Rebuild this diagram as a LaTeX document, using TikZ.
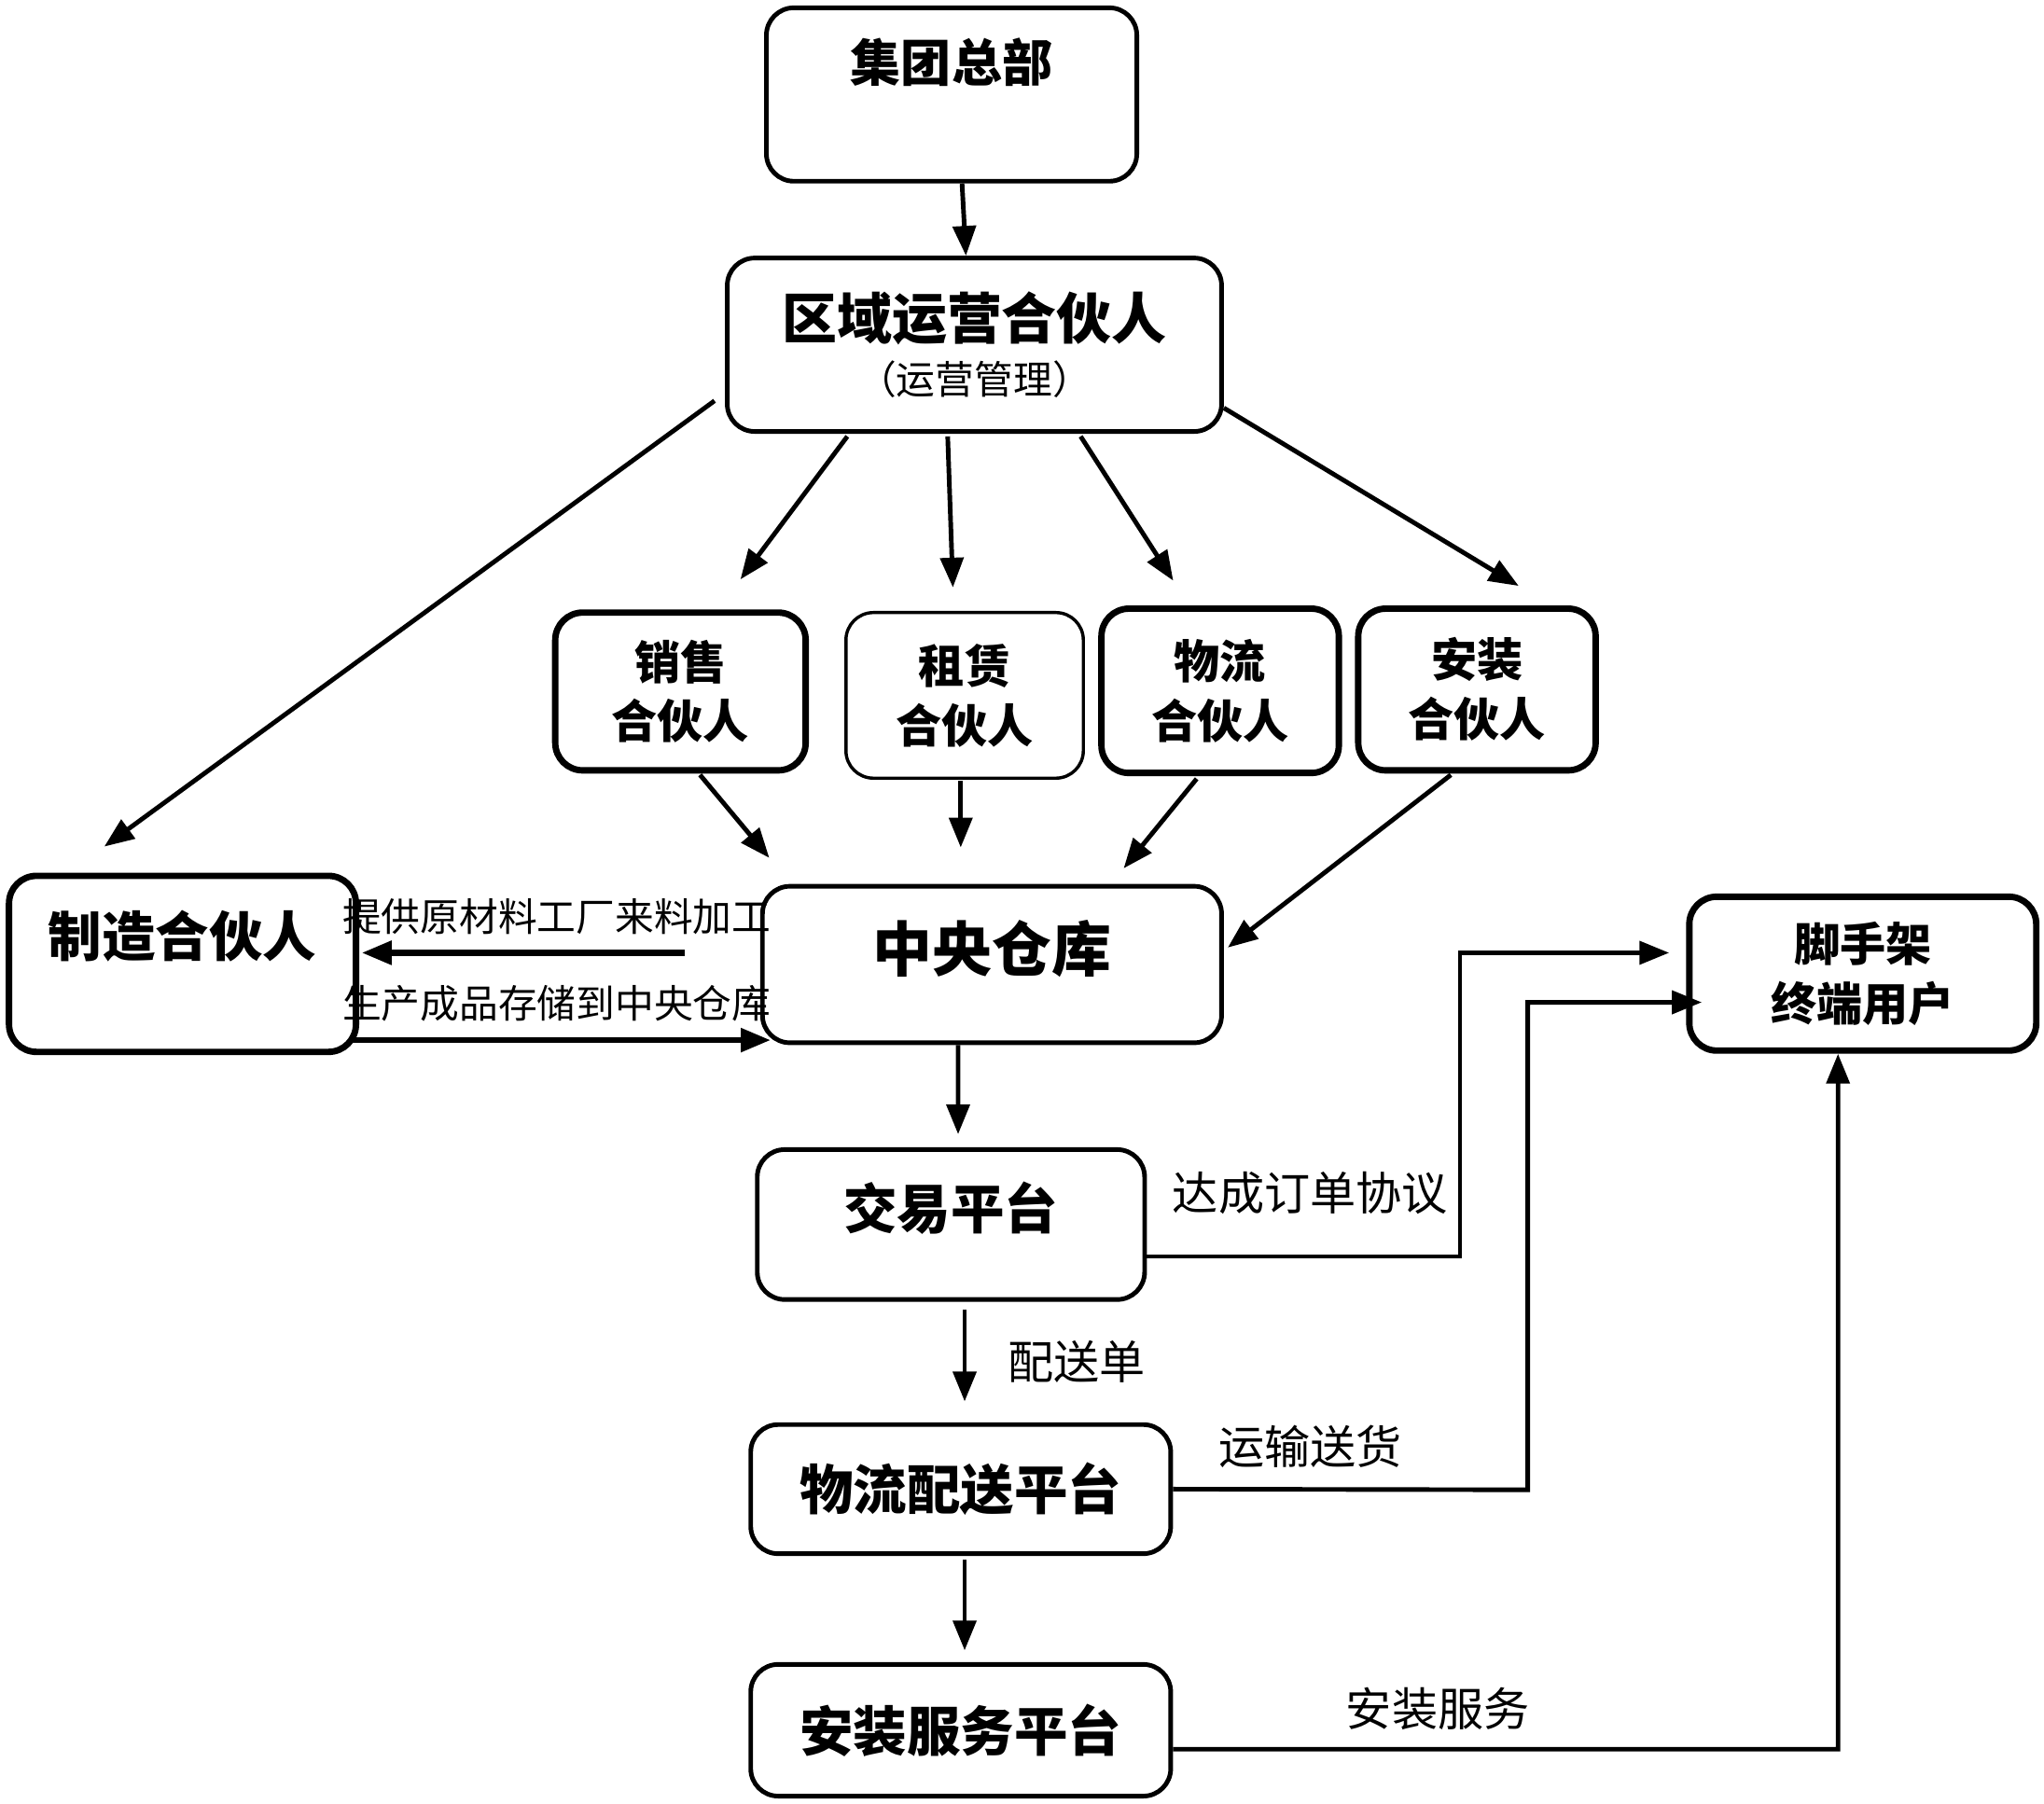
\documentclass[tikz,border=0pt]{standalone}
\usepackage{fontspec}
\setmainfont{Noto Sans CJK SC}
\usetikzlibrary{arrows.meta}
\begin{document}
\begin{tikzpicture}[x=0.01cm,y=-0.01cm,
  box/.style={draw, rounded corners=6pt, line width=1pt, inner sep=0pt},
  thickbox/.style={box, line width=1.4pt},
  thinbox/.style={box, line width=0.7pt},
  arr/.style={-{Triangle[length=6.5pt,width=5pt]}, line width=1pt},
  big/.style={font=\bfseries\fontsize{11.7}{14}\selectfont},
  mid/.style={font=\bfseries\fontsize{10}{13}\selectfont, align=center},
  lbl/.style={font=\fontsize{10}{12}\selectfont},
  slbl/.style={font=\fontsize{8.5}{10}\selectfont, inner sep=0pt}
]
\useasboundingbox (0,0) rectangle (1568,1384);

% boxes
\node[box, minimum width=2.84cm, minimum height=1.33cm,
  label={[big, font=\bfseries\fontsize{11}{13}\selectfont, yshift=0.245cm]center:集团总部}] (hq) at (730,72.5) {};
\node[box, minimum width=3.79cm, minimum height=1.33cm, align=center] (reg) at (747.5,264.5)
  {{\bfseries\fontsize{12}{15}\selectfont 区域运营合伙人}\\[0pt]{\fontsize{8.5}{10}\selectfont （运营管理）}};
\node[thickbox, mid, minimum width=1.92cm, minimum height=1.21cm] (sales) at (522,530.5) {销售\\合伙人};
\node[thinbox, mid, minimum width=1.82cm, minimum height=1.27cm] (rent) at (740,533.5) {租赁\\合伙人};
\node[thickbox, mid, minimum width=1.82cm, minimum height=1.26cm] (logi) at (936,530) {物流\\合伙人};
\node[thickbox, mid, minimum width=1.82cm, minimum height=1.24cm] (inst) at (1133,529) {安装\\合伙人};
\node[thickbox, minimum width=2.66cm, minimum height=1.35cm,
  label={[big, yshift=0.215cm]center:制造合伙人}] (mfg) at (140,739.5) {};
\node[box, minimum width=3.52cm, minimum height=1.2cm,
  label={[font=\bfseries\fontsize{13}{15}\selectfont, yshift=0.12cm]center:中央仓库}] (cw) at (761,740) {};
\node[box, minimum width=2.97cm, minimum height=1.15cm,
  label={[big, yshift=0.125cm]center:交易平台}] (trade) at (729.5,939.5) {};
\node[box, big, minimum width=3.22cm, minimum height=0.99cm] (logp) at (737,1142.5) {物流配送平台};
\node[box, big, minimum width=3.22cm, minimum height=1.01cm] (instp) at (737,1327.5) {安装服务平台};
\node[thickbox, mid, minimum width=2.66cm, minimum height=1.18cm] (user) at (1429,747) {脚手架\\终端用户};

% connectors
\draw[arr] ([xshift=0.08cm]hq.south) -- ([xshift=-0.065cm]reg.north);
\draw[arr] ([shift={(-8,43)}]reg.west) -- ([shift={(-60,-20)}]mfg.north);
\draw[arr] ([shift={(-97.5,2)}]reg.south) -- ([shift={(46,-23)}]sales.north);
\draw[arr] ([shift={(-20.5,2)}]reg.south) -- ([shift={(-9,-18)}]rent.north);
\draw[arr] ([shift={(81.5,2)}]reg.south) -- ([shift={(-36,-19)}]logi.north);
\draw[arr] ([shift={(0,48.5)}]reg.east) -- ([shift={(32,-15)}]inst.north);

\draw[arr] ([shift={(15,1)}]sales.south) -- ([shift={(7,-20)}]cw.north west);
\draw[arr] ([shift={(-3,1)}]rent.south) -- ([shift={(-24,-28)}]cw.north);
\draw[arr] ([shift={(-18,2)}]logi.south) -- ([shift={(101,-12)}]cw.north);
\draw[arr] ([shift={(-20,1)}]inst.south) -- ([shift={(3,-13)}]cw.east);

\draw[arr, line width=1.3pt] ([shift={(-58,-9)}]cw.west) -- ([shift={(2,-8.5)}]mfg.east);
\node[slbl, anchor=west] (lab1) at (262,703) {提供原材料工厂来料加工};
\draw[arr, line width=1.3pt] ([shift={(-5,58.5)}]mfg.east) -- ([shift={(8,58)}]cw.west);
\node[slbl, anchor=west] (lab2) at (262,770) {生产成品存储到中央仓库};

\draw[arr] ([xshift=-0.26cm]cw.south) -- ([shift={(5.5,-10)}]trade.north);

\draw[arr] ([shift={(0,24.5)}]trade.east) -- (1120,964) -- (1120,731) -- ([shift={(-13,-16)}]user.west);
\node[lbl] (lab3) at (1005,915) {达成订单协议};

\draw[arr] ([shift={(10.5,6)}]trade.south) -- ([shift={(3,-16)}]logp.north);
\node[lbl] (lab4) at (826,1045) {配送单};

\draw[arr] (logp.east) -- (1172,1143) -- (1172,769) -- ([shift={(12,22)}]user.west);
\node[lbl] (lab5) at (1005,1110) {运输送货};

\draw[arr] ([shift={(3,3)}]logp.south) -- ([shift={(3,-9)}]instp.north);

\draw[arr] ([shift={(0,14.5)}]instp.east) -- (1410,1342) -- ([xshift=-0.19cm]user.south);
\node[lbl] (lab6) at (1103,1311) {安装服务};
\end{tikzpicture}
\end{document}
